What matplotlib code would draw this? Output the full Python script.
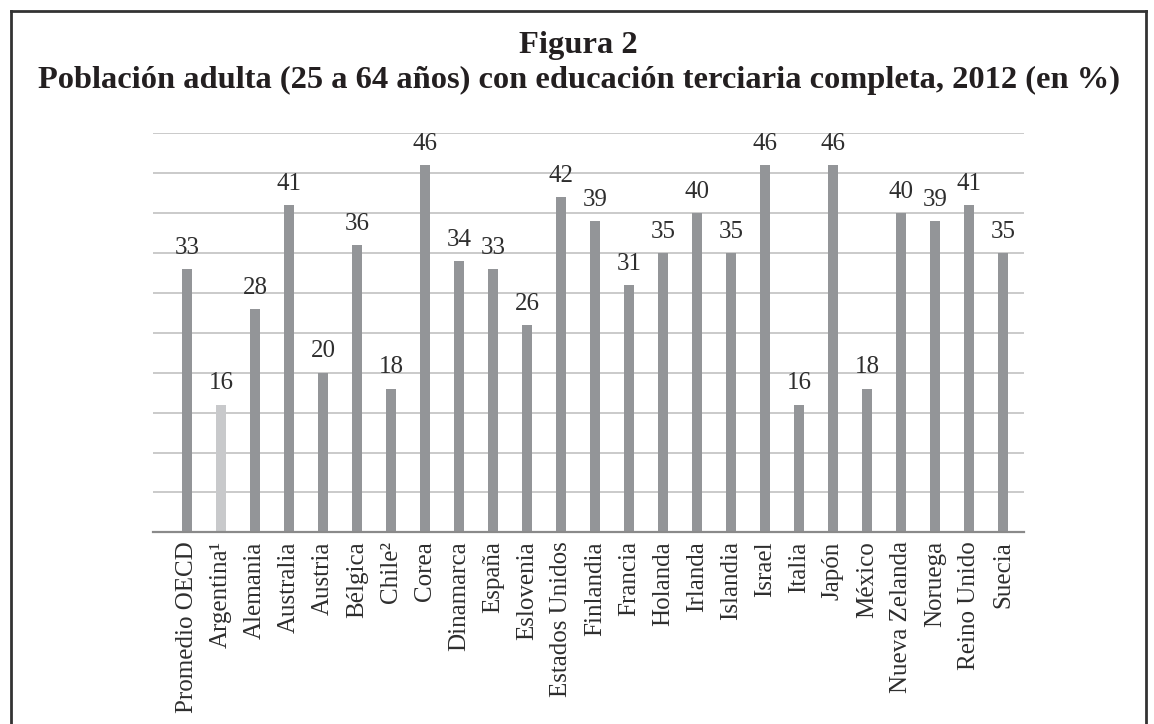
import matplotlib
matplotlib.use('Agg')
import matplotlib.pyplot as plt
from matplotlib.lines import Line2D

plt.rcParams['font.family'] = ['Liberation Serif', 'DejaVu Serif']

categories = ['Promedio OECD', 'Argentina¹', 'Alemania', 'Australia', 'Austria',
              'Bélgica', 'Chile²', 'Corea', 'Dinamarca', 'España', 'Eslovenia',
              'Estados Unidos', 'Finlandia', 'Francia', 'Holanda', 'Irlanda',
              'Islandia', 'Israel', 'Italia', 'Japón', 'México', 'Nueva Zelanda',
              'Noruega', 'Reino Unido', 'Suecia']
values = [33, 16, 28, 41, 20, 36, 18, 46, 34, 33, 26, 42, 39, 31, 35, 40, 35,
          46, 16, 46, 18, 40, 39, 41, 35]
highlight = 'Argentina¹'

title_1 = 'Figura 2'
title_2 = 'Población adulta (25 a 64 años) con educación terciaria completa, 2012 (en %)'

W, H = 1154, 724
fig = plt.figure(figsize=(W / 100, H / 100), dpi=100)
fig.patch.set_facecolor('white')

ax = fig.add_axes([153 / W, 1 - 532.3 / H, 871 / W, 399 / H])
x = list(range(len(categories)))
colors = ['#c8c9cb' if c == highlight else '#939598' for c in categories]
ax.bar(x, values, width=0.29, color=colors, zorder=3)

ax.set_ylim(0, 50)
ax.set_xlim(-1.0, 24.62)
ax.set_yticks(range(0, 51, 5))
ax.yaxis.grid(True, color='#c6c6c6', lw=1.3, zorder=0)
ax.tick_params(left=False, labelleft=False, bottom=False, pad=3)
for s in ['top', 'right', 'left']:
    ax.spines[s].set_visible(False)
ax.spines['bottom'].set_color('#8a8a8a')
ax.spines['bottom'].set_linewidth(1.6)
ax.spines['bottom'].set_zorder(4)
ax.set_xticks(x)
ax.set_xticklabels(categories, rotation=90, fontsize=18, color='#2e2e2e',
                   ha='center', va='top')

for i, v in zip(x, values):
    ax.annotate(str(v), (i, v), xytext=(0, 11), textcoords='offset points',
                ha='center', va='baseline', fontsize=18, color='#2e2e2e')

fig.text(0.5013, 1 - 45 / H, title_1, ha='center', va='center',
         fontsize=23.4, fontweight='bold', color='#231f20')
fig.text(0.5013, 1 - 80 / H, title_2, ha='center', va='center',
         fontsize=23.4, fontweight='bold', color='#231f20')

# frame around the figure (open at the bottom)
bc = '#333333'
fig.add_artist(Line2D([11 / W, 1146 / W], [1 - 10.5 / H, 1 - 10.5 / H],
                      transform=fig.transFigure, color=bc, lw=2))
fig.add_artist(Line2D([11 / W, 11 / W], [1 - 10.5 / H, 0],
                      transform=fig.transFigure, color=bc, lw=2))
fig.add_artist(Line2D([1146 / W, 1146 / W], [1 - 10.5 / H, 0],
                      transform=fig.transFigure, color=bc, lw=2))

fig.savefig('out.png', dpi=100, facecolor='white')
